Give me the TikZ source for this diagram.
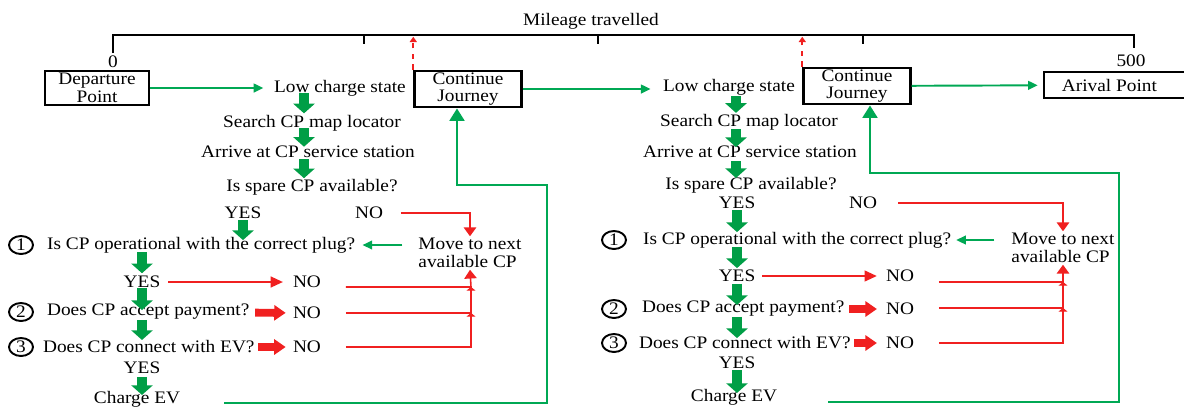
\documentclass[tikz,border=0pt]{standalone}
\usepackage{fontspec}
\setmainfont[FakeStretch=1.1]{Liberation Serif}
\usetikzlibrary{arrows.meta,shapes.geometric}
\definecolor{flowGreen}{RGB}{0,168,84}
\definecolor{blockGreen}{RGB}{0,158,70}
\definecolor{flowRed}{RGB}{240,32,32}

\begin{document}
\begin{tikzpicture}[x=0.02cm,y=-0.02cm]
        \tikzstyle{every node}=[font=\fontsize{10}{10}\selectfont, inner sep=1pt]
        \tikzstyle{endBox}=[draw, line width=1.4pt, align=center, minimum width=2.14cm, minimum height=0.68cm]
        \tikzstyle{numCircle}=[draw, ellipse, line width=1.1pt, minimum width=0.48cm, minimum height=0.36cm, inner sep=0pt]
        \tikzstyle{greenArrow}=[draw=flowGreen, line width=1.1pt, -{Triangle[length=5.5pt,width=5pt]}]
        \tikzstyle{returnArrow}=[draw=flowGreen, line width=1.1pt, -{Triangle[length=7pt,width=8.5pt]}]
        \tikzstyle{redArrow}=[draw=flowRed, line width=1.4pt, -{Triangle[length=7pt,width=6pt]}]
        \tikzstyle{redLine}=[draw=flowRed, line width=0.9pt, -{Triangle[length=5pt,width=7pt]}]
        \tikzstyle{redJoin}=[draw=flowRed, line width=0.9pt, -{Triangle[length=2pt,width=5pt]}]
        \tikzstyle{redDash}=[draw=flowRed, line width=0.9pt, dashed, -{Triangle[length=3pt,width=4pt]}]
        \tikzstyle{greenBlock}=[draw=blockGreen, line width=6pt, -{Triangle[length=5.5pt,width=12pt]}]
        \tikzstyle{redBlock}=[draw=flowRed, line width=4.5pt, -{Triangle[length=6.5pt,width=8.5pt]}]

        \useasboundingbox (0,0) rectangle (1184,407);

        \coordinate (axL) at (113,35);
        \coordinate (axR) at (1134,35);
        \draw[line width=1.1pt] (113,53) -- (axL) -- (axR) -- (1134,48);
        \foreach \t in {364,598,863}
            \draw[line width=1.1pt] (\t,35) -- (\t,44);
        \node (mileage) at (591,21) {Mileage travelled};
        \node (zero) at (113,62) {0};
        \node (fiveHundred) at (1131,61) {500};

        \node[endBox, minimum width=2.08cm] (departure) at (97,88) {Departure\\Point};
        \node (low1) at (340,88) {Low charge state};
        \node[endBox] (cont1) at (468,89) {Continue\\Journey};
        \node (search1) at (312,123) {Search CP map locator};
        \node (arrive1) at (308,152) {Arrive at CP service station};
        \node (spare1) at (312,187) {Is spare CP available?};
        \node (yes1) at (243,213) {YES};
        \node (no1) at (369,213) {NO};
        \node[numCircle] (one1) at (21,245) {1};
        \node[anchor=west] (op1) at (45,245) {Is CP operational with the correct plug?};
        \node[align=left] (move1) at (470,253) {Move to next\\available CP};
        \node (yesOp1) at (142,282) {YES};
        \node (noOp1) at (307,282) {NO};
        \node[numCircle] (two1) at (21,312) {2};
        \node[anchor=west] (pay1) at (45,312) {Does CP accept payment?};
        \node (noPay1) at (307,313) {NO};
        \node[numCircle] (three1) at (21,347) {3};
        \node[anchor=west] (conn1) at (41,347) {Does CP connect with EV?};
        \node (noConn1) at (307,347) {NO};
        \node (yesConn1) at (142,368) {YES};
        \node (charge1) at (137,399) {Charge EV};

        \node (low2) at (729,87) {Low charge state};
        \node[endBox] (cont2) at (857,86) {Continue\\Journey};
        \node[endBox, anchor=west, minimum height=0.52cm, minimum width=3.1cm] (arrival) at (1043,85) {Arival Point\hspace{14pt}};
        \node (search2) at (749,122) {Search CP map locator};
        \node (arrive2) at (750,152) {Arrive at CP service station};
        \node (spare2) at (751,185) {Is spare CP available?};
        \node (yes2) at (737,203) {YES};
        \node (no2) at (863,203) {NO};
        \node[numCircle] (one2) at (614,240) {1};
        \node[anchor=west] (op2) at (641,240) {Is CP operational with the correct plug?};
        \node[align=left] (move2) at (1063,248) {Move to next\\available CP};
        \node (yesOp2) at (737,276) {YES};
        \node (noOp2) at (900,276) {NO};
        \node[numCircle] (two2) at (614,309) {2};
        \node[anchor=west] (pay2) at (640,309) {Does CP accept payment?};
        \node (noPay2) at (900,309) {NO};
        \node[numCircle] (three2) at (614,343) {3};
        \node[anchor=west] (conn2) at (637,343) {Does CP connect with EV?};
        \node (noConn2) at (900,343) {NO};
        \node (yesConn2) at (737,363) {YES};
        \node (charge2) at (734,397) {Charge EV};

        \coordinate (colA1) at (304,0);
        \coordinate (busA1) at (471,287);
        \coordinate (busB1) at (471,313);
        \coordinate (loopR1) at (547,403);
        \coordinate (loopT1) at (457,185);
        \coordinate (colA2) at (736,0);
        \coordinate (busA2) at (1063,282);
        \coordinate (busB2) at (1063,308);
        \coordinate (loopR2) at (1119,402);
        \coordinate (loopT2) at (870,173);

        \draw[greenArrow, shorten >=5pt] (departure) -- (low1);
        \draw[greenArrow, shorten >=6pt] (cont1.east) -- (cont1.east -| low2.west);
        \draw[greenArrow, shorten >=3pt] (cont2) -- (arrival);
        \draw[redDash, shorten >=1pt] (cont1.north west) -- (cont1.north west |- axL);
        \draw[redDash, shorten >=1pt] (cont2.north west) -- (cont2.north west |- axR);

        \draw[greenBlock, shorten <=3pt, shorten >=5.5pt] (colA1 |- low1) -- (colA1 |- search1);
        \draw[greenBlock, shorten <=3pt, shorten >=3pt] (colA1 |- search1) -- (colA1 |- arrive1);
        \draw[greenBlock, shorten <=4pt, shorten >=5pt] (colA1 |- arrive1) -- (colA1 |- spare1);
        \draw[greenBlock, shorten <=4pt, shorten >=2.8pt] (yes1.center) -- (yes1 |- op1);
        \draw[greenBlock, shorten <=4pt, shorten >=5pt] (yesOp1 |- op1) -- (yesOp1.center);
        \draw[greenBlock, shorten <=3.4pt, shorten >=1.1pt] (yesOp1.center) -- (yesOp1 |- pay1);
        \draw[greenBlock, shorten <=4.5pt, shorten >=4pt] (yesOp1 |- pay1) -- (yesOp1 |- conn1);
        \draw[greenBlock, shorten <=5pt, shorten >=2.3pt] (yesConn1.center) -- (yesConn1 |- charge1);

        \draw[redLine, shorten <=9pt] (no1.east) -| (move1.north);
        \draw[greenArrow, shorten <=8pt, shorten >=3pt] (move1.west |- op1) -- (op1.east);
        \draw[redArrow, shorten <=3.4pt, shorten >=4.5pt] (yesOp1.east) -- (noOp1.west);
        \draw[redBlock, shorten <=2pt, shorten >=3pt] (pay1) -- (noPay1);
        \draw[redBlock, shorten <=1pt, shorten >=3pt] (conn1) -- (noConn1);
        \draw[redLine, shorten <=13pt] (noOp1.east |- busA1) -- (busA1) -- (move1.south);
        \draw[redJoin, shorten <=13pt] (noPay1.east) -- (busB1) -- (busA1);
        \draw[redJoin, shorten <=13pt] (noConn1.east) -| (busB1);
        \draw[returnArrow, shorten <=24pt] (loopR1 -| charge1.east) -- (loopR1) |- (loopT1) -- (loopT1 |- cont1.south);

        \draw[greenBlock, shorten <=5.2pt, shorten >=5.2pt] (colA2 |- low2) -- (colA2 |- search2);
        \draw[greenBlock, shorten <=4pt, shorten >=2.8pt] (colA2 |- search2) -- (colA2 |- arrive2);
        \draw[greenBlock, shorten <=5.2pt, shorten >=4pt] (colA2 |- arrive2) -- (colA2 |- spare2);
        \draw[greenBlock, shorten <=4pt, shorten >=4.5pt] (yes2.center) -- (yes2 |- op2);
        \draw[greenBlock, shorten <=4pt, shorten >=4.5pt] (yesOp2 |- op2) -- (yesOp2.center);
        \draw[greenBlock, shorten <=4.5pt, shorten >=2.3pt] (yesOp2.center) -- (yesOp2 |- pay2);
        \draw[greenBlock, shorten <=4.5pt, shorten >=2.8pt] (yesOp2 |- pay2) -- (yesOp2 |- conn2);
        \draw[greenBlock, shorten <=4pt, shorten >=2.3pt] (yesConn2.center) -- (yesConn2 |- charge2);

        \draw[redLine, shorten <=10.8pt] (no2.east) -| (move2.north);
        \draw[greenArrow, shorten <=8.5pt, shorten >=1.7pt] (move2.west |- op2) -- (op2.east);
        \draw[redArrow, shorten <=2.8pt, shorten >=4pt] (yesOp2.east) -- (noOp2.west);
        \draw[redBlock, shorten <=1.5pt, shorten >=4pt] (pay2) -- (noPay2);
        \draw[redBlock, shorten <=1pt, shorten >=4pt] (conn2) -- (noConn2);
        \draw[redLine, shorten <=13pt] (noOp2.east |- busA2) -- (busA2) -- (move2.south);
        \draw[redJoin, shorten <=13pt] (noPay2.east |- busB2) -- (busB2) -- (busA2);
        \draw[redJoin, shorten <=13pt] (noConn2.east) -| (busB2);
        \draw[returnArrow, shorten <=28pt] (loopR2 -| charge2.east) -- (loopR2) |- (loopT2) -- (loopT2 |- cont2.south);

    \end{tikzpicture}
\end{document}
